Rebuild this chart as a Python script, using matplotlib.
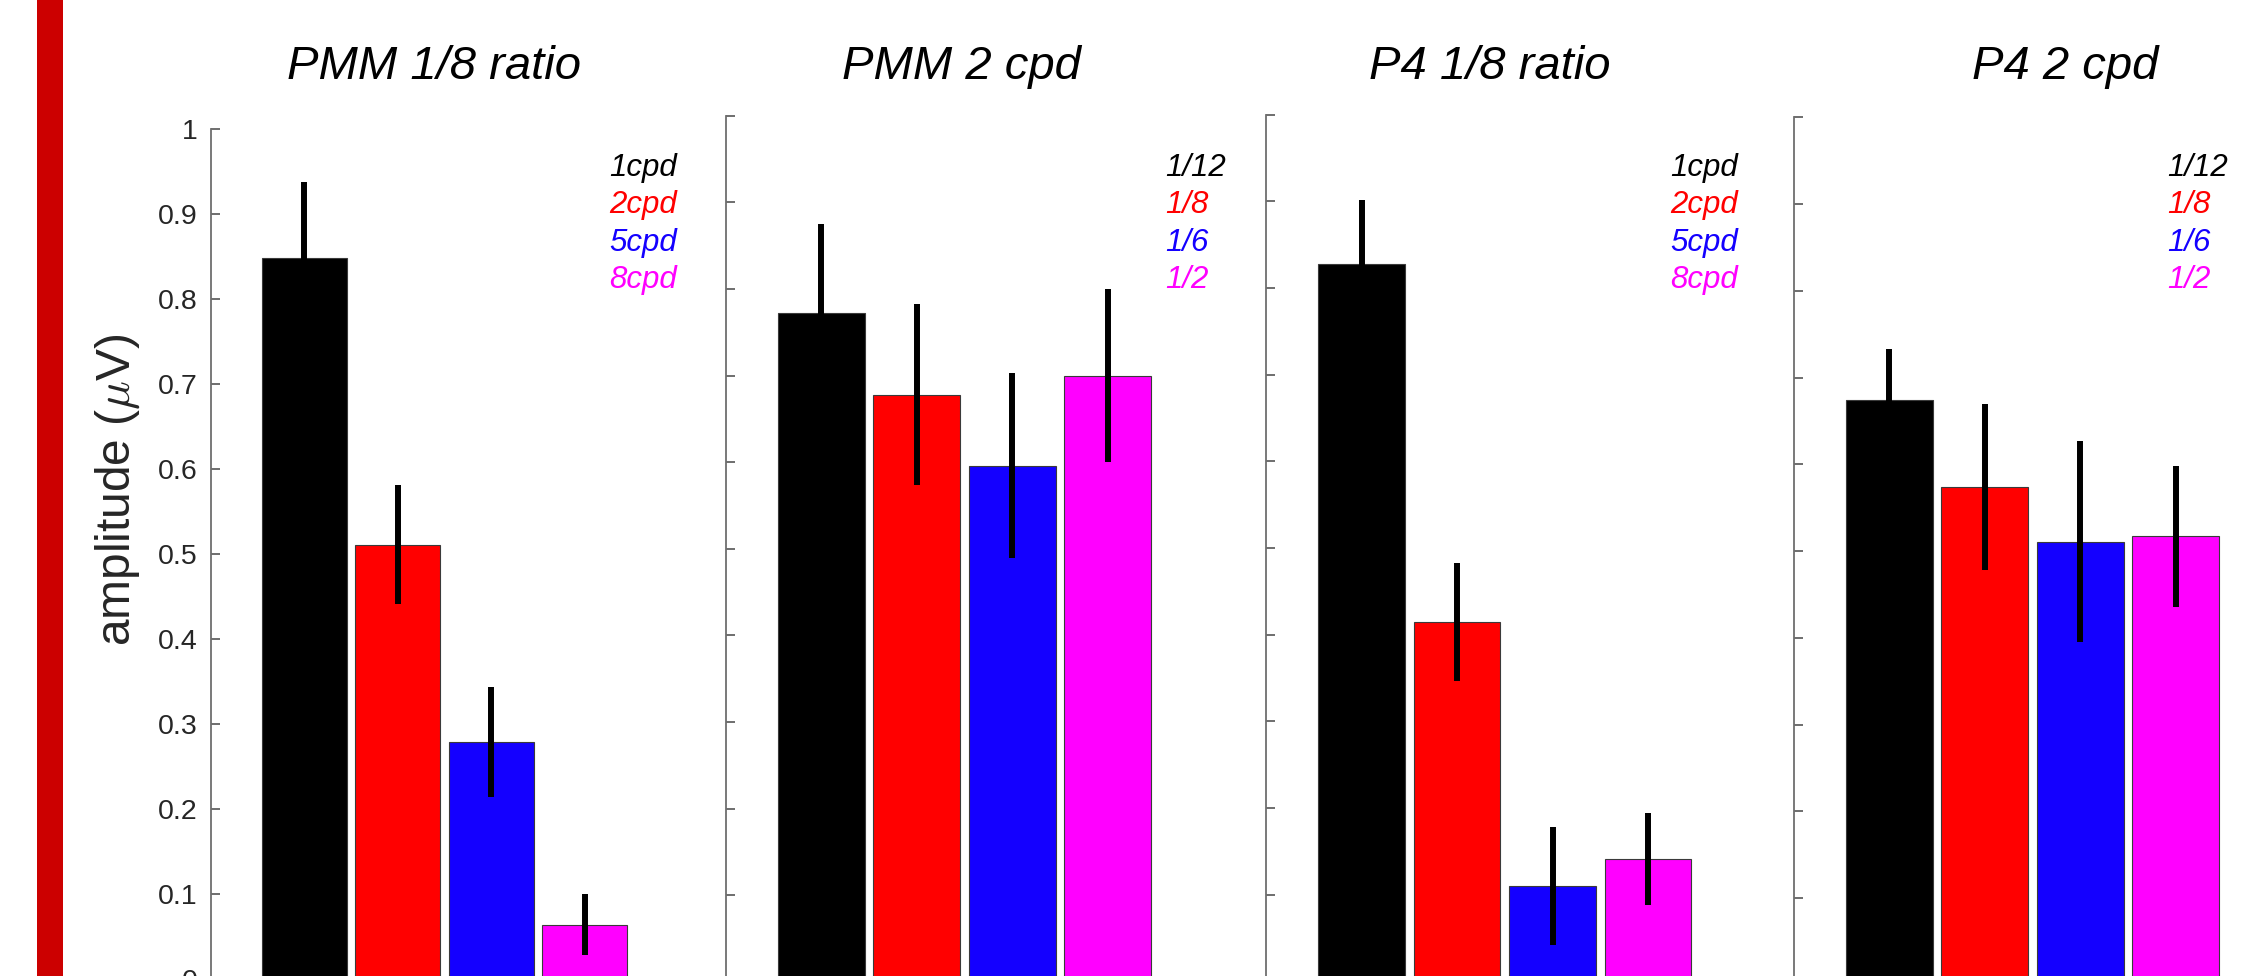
import numpy as np
import matplotlib.pyplot as plt
from matplotlib.patches import Rectangle

plt.rcParams['font.family'] = ['Liberation Sans', 'DejaVu Sans']
plt.rcParams['mathtext.fontset'] = 'cm'

# data
titles = ["PMM 1/8 ratio", "PMM 2 cpd", "P4 1/8 ratio", "P4 2 cpd"]
sf_labels = ["1cpd", "2cpd", "5cpd", "8cpd"]
ratio_labels = ["1/12", "1/8", "1/6", "1/2"]
legend_labels = [sf_labels, ratio_labels, sf_labels, ratio_labels]

pmm_ratio = [0.849, 0.511, 0.279, 0.064]
pmm_ratio_err = [0.089, 0.070, 0.065, 0.036]
pmm_cpd = [0.772, 0.678, 0.596, 0.700]
pmm_cpd_err = [0.103, 0.105, 0.107, 0.100]
p4_ratio = [0.828, 0.415, 0.110, 0.141]
p4_ratio_err = [0.074, 0.068, 0.068, 0.053]
p4_cpd = [0.674, 0.574, 0.511, 0.517]
p4_cpd_err = [0.059, 0.096, 0.116, 0.081]

values = [pmm_ratio, pmm_cpd, p4_ratio, p4_cpd]
errors = [pmm_ratio_err, pmm_cpd_err, p4_ratio_err, p4_cpd_err]
y_ticks = np.round(np.arange(0, 1.01, 0.1), 1)
y_ticklabels = ["0"] + ["%.1f" % v for v in y_ticks[1:-1]] + ["1"]

colors = ["black", "#ff0000", "#1400ff", "#ff00ff"]

W, H = 2241, 976
fig = plt.figure(figsize=(W / 100, H / 100), dpi=100)

# left red stripe
fig.add_artist(Rectangle((37 / W, 0), 26 / W, 1, transform=fig.transFigure,
                         color="#cc0000", lw=0))

# (left px, top px, zero px, px per x unit)
boxes = [(210.7, 129.3, 979.0, 93.5),
         (725.9, 115.7, 981.7, 95.5),
         (1266.0, 114.7, 981.2, 95.5),
         (1793.7, 117.3, 985.0, 95.5)]
title_x = [434, 961, 1490, 2065]
legend_x = [609, 1165, 1670, 2167]
legend_y = [168, 205, 243, 280]

x = np.arange(1, 5)
for i, (left, top, zero, unit) in enumerate(boxes):
    ax = fig.add_axes([left / W, (H - zero) / H, 5 * unit / W, (zero - top) / H])
    ax.bar(x, values[i], width=0.91, color=colors, edgecolor="#3a3a3a",
           linewidth=0.8, zorder=2)
    ax.errorbar(x, values[i], yerr=errors[i], fmt="none", ecolor="black",
                elinewidth=4.3, capsize=0, zorder=3)
    ax.set_xlim(0, 5)
    ax.set_ylim(0, 1)
    for s in ["top", "right", "bottom"]:
        ax.spines[s].set_visible(False)
    ax.spines["left"].set_color("#6e6e6e")
    ax.spines["left"].set_linewidth(1.3)
    ax.set_xticks([])
    ax.set_yticks(y_ticks)
    if i == 0:
        ax.set_yticklabels(y_ticklabels)
    else:
        ax.set_yticklabels([])
    ax.tick_params(axis="y", direction="in", length=6.5, width=1.2,
                   color="#555555", labelsize=20.5, labelcolor="#262626", pad=9.4)
    ax.patch.set_alpha(0)

    fig.text(title_x[i] / W, 1 - 79 / H, titles[i], fontsize=34, style="italic",
             ha="center", va="baseline")
    for lab, c, ly in zip(legend_labels[i], colors, legend_y):
        fig.text(legend_x[i] / W, 1 - ly / H, lab, fontsize=22.5, style="italic",
                 color=c, ha="left", va="center")

fig.text(118 / W, 1 - 490 / H, r"amplitude ($\mu$V)", fontsize=34.5,
         rotation=90, ha="center", va="center", color="#262626")

fig.savefig("out.png", dpi=100)
